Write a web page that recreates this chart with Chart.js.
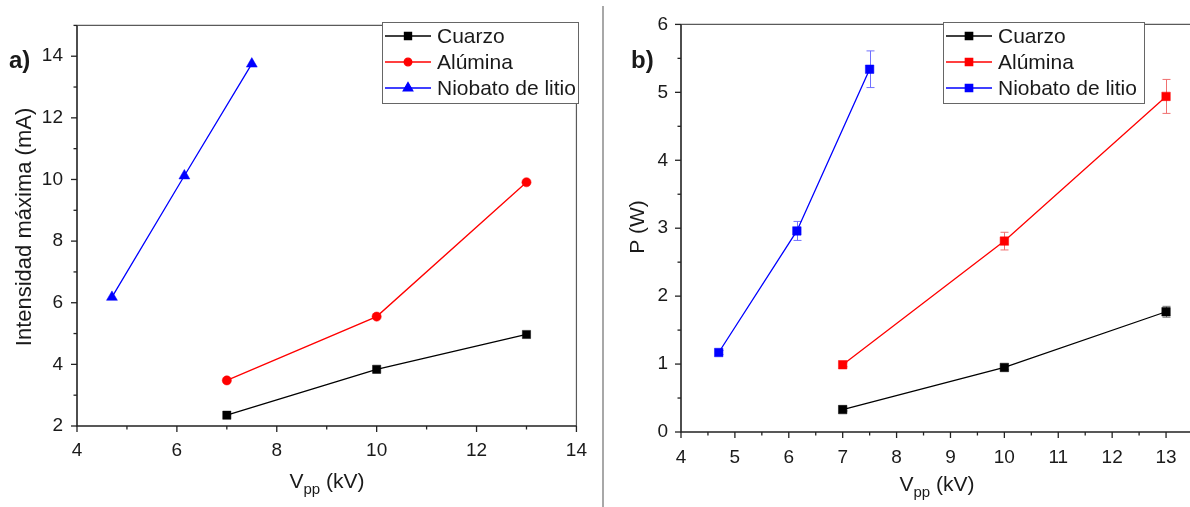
<!DOCTYPE html>
<html>
<head>
<meta charset="utf-8">
<script src="https://cdn.jsdelivr.net/npm/chart.js@4.4.0/dist/chart.umd.min.js"></script>
<style>
  html, body { margin: 0; padding: 0; background: #fff; overflow: hidden; width: 1190px; height: 507px; }
  .panel { position: absolute; top: 0; }
  #chartA { left: 0; }
  #chartB { left: 606px; }
  #divider { position: absolute; left: 602px; top: 6px; width: 2px; height: 501px; background: #a8a8a8; }
</style>
</head>
<body>
<canvas id="chartA" class="panel" width="600" height="507"></canvas>
<div id="divider"></div>
<canvas id="chartB" class="panel" width="600" height="507"></canvas>
<script>
// Series shared by both panels
const seriesNames = ['Cuarzo', 'Alúmina', 'Niobato de litio'];
const seriesColors = ['#000000', '#ff0000', '#0000ff'];
const errorColors = ['#707070', '#f07070', '#7070ff'];

// a) Intensidad máxima (mA) vs Vpp (kV)
const vppCuarzoA = [7, 10, 13];
const iCuarzo = [2.35, 3.84, 4.97];
const vppAluminaA = [7, 10, 13];
const iAlumina = [3.48, 5.55, 9.91];
const vppNiobatoA = [4.7, 6.15, 7.5];
const iNiobato = [6.18, 10.12, 13.75];

// b) P (W) vs Vpp (kV), with error bars
const vppCuarzoB = [7, 10, 13];
const pCuarzo = [0.33, 0.95, 1.77];
const errCuarzo = [0.02, 0.03, 0.08];
const vppAluminaB = [7, 10, 13];
const pAlumina = [0.99, 2.81, 4.94];
const errAlumina = [0.03, 0.13, 0.25];
const vppNiobatoB = [4.7, 6.15, 7.5];
const pNiobato = [1.17, 2.96, 5.34];
const errNiobato = [0.03, 0.14, 0.27];

// Tick labels
const ticksXA = [4, 6, 8, 10, 12, 14];
const ticksYA = [2, 4, 6, 8, 10, 12, 14];
const ticksXB = [4, 5, 6, 7, 8, 9, 10, 11, 12, 13];
const ticksYB = [0, 1, 2, 3, 4, 5, 6];

const FONT = "'Liberation Sans', Arial, Helvetica, sans-serif";
const INK = '#1a1a1a';

function makeDataset(label, xs, ys, color, style, radius, errs) {
    return {
        label: label,
        data: xs.map((x, i) => ({ x: x, y: ys[i] })),
        errors: errs || null,
        borderColor: color,
        backgroundColor: color,
        borderWidth: 1.3,
        pointStyle: style,
        pointRadius: radius,
        pointBorderWidth: 0.5,
        showLine: true,
        tension: 0
    };
}

// Frame, ticks, error bars, legend and titles drawn around the chart area
const decorPlugin = {
    id: 'decor',
    beforeDatasetsDraw(chart, args, opts) {
        const ctx = chart.ctx;
        const xs = chart.scales.x, ys = chart.scales.y;
        ctx.save();
        ctx.lineWidth = 1;
        chart.data.datasets.forEach((ds, di) => {
            if (!ds.errors) return;
            ctx.strokeStyle = errorColors[di];
            ds.data.forEach((p, i) => {
                const e = ds.errors[i];
                const px = Math.round(xs.getPixelForValue(p.x)) + 0.5;
                const top = ys.getPixelForValue(p.y + e);
                const bot = ys.getPixelForValue(p.y - e);
                ctx.beginPath();
                ctx.moveTo(px, top); ctx.lineTo(px, bot);
                ctx.moveTo(px - 4, top); ctx.lineTo(px + 4, top);
                ctx.moveTo(px - 4, bot); ctx.lineTo(px + 4, bot);
                ctx.stroke();
            });
        });
        ctx.restore();
    },
    afterDraw(chart, args, opts) {
        const ctx = chart.ctx;
        const a = chart.chartArea;
        const xs = chart.scales.x, ys = chart.scales.y;
        ctx.save();

        // frame
        ctx.strokeStyle = '#5a5a5a';
        ctx.lineWidth = 1.2;
        ctx.beginPath();
        ctx.moveTo(a.left, a.top); ctx.lineTo(a.right, a.top); ctx.lineTo(a.right, a.bottom);
        ctx.stroke();
        ctx.strokeStyle = '#222';
        ctx.lineWidth = 1.6;
        ctx.beginPath();
        ctx.moveTo(a.left, a.top); ctx.lineTo(a.left, a.bottom); ctx.lineTo(a.right, a.bottom);
        ctx.stroke();

        // major and minor ticks, outward
        ctx.lineWidth = 1.3;
        for (let v = xs.min; v <= xs.max + 1e-9; v += opts.minorX) {
            const px = xs.getPixelForValue(v);
            const major = opts.ticksX.some(t => Math.abs(t - v) < 1e-6);
            ctx.beginPath();
            ctx.moveTo(px, a.bottom); ctx.lineTo(px, a.bottom + (major ? 6 : 3.5));
            ctx.stroke();
        }
        for (let v = ys.min; v <= ys.max + 1e-9; v += opts.minorY) {
            const py = ys.getPixelForValue(v);
            const major = opts.ticksY.some(t => Math.abs(t - v) < 1e-6);
            ctx.beginPath();
            ctx.moveTo(a.left, py); ctx.lineTo(a.left - (major ? 6 : 3.5), py);
            ctx.stroke();
        }

        // legend box
        const lg = opts.legend;
        ctx.fillStyle = '#fff';
        ctx.fillRect(lg.x, lg.y, lg.w, lg.h);
        ctx.strokeStyle = '#666';
        ctx.lineWidth = 1;
        ctx.strokeRect(lg.x + 0.5, lg.y + 0.5, lg.w, lg.h);
        ctx.font = '21px ' + FONT;
        ctx.textBaseline = 'middle';
        ctx.textAlign = 'left';
        chart.data.datasets.forEach((ds, i) => {
            const cy = lg.y + 14 + i * 26;
            ctx.strokeStyle = ds.borderColor;
            ctx.lineWidth = 1.3;
            ctx.beginPath();
            ctx.moveTo(lg.x + 3, cy); ctx.lineTo(lg.x + 49, cy);
            ctx.stroke();
            ctx.fillStyle = ds.backgroundColor;
            Chart.helpers.drawPoint(ctx, {
                pointStyle: ds.pointStyle, radius: ds.pointRadius - 0.8,
                rotation: 0, borderWidth: 0.5
            }, lg.x + 26, cy);
            ctx.fillStyle = INK;
            ctx.fillText(ds.label, lg.x + 55, cy + 1);
        });

        // axis titles
        ctx.fillStyle = INK;
        ctx.font = opts.yTitle.size + 'px ' + FONT;
        ctx.textAlign = 'center';
        ctx.textBaseline = 'middle';
        ctx.save();
        ctx.translate(opts.yTitle.x, opts.yTitle.y);
        ctx.rotate(-Math.PI / 2);
        ctx.fillText(opts.yTitle.text, 0, 0);
        ctx.restore();

        // V with subscript pp
        ctx.textBaseline = 'alphabetic';
        ctx.textAlign = 'left';
        const big = '21px ' + FONT, small = '15px ' + FONT;
        ctx.font = big; const wV = ctx.measureText('V').width;
        ctx.font = small; const wS = ctx.measureText('pp').width;
        ctx.font = big; const wU = ctx.measureText(' (kV)').width;
        let tx = opts.xTitle.x - (wV + wS + wU) / 2;
        const by = opts.xTitle.y;
        ctx.fillText('V', tx, by); tx += wV;
        ctx.font = small; ctx.fillText('pp', tx, by + 6); tx += wS;
        ctx.font = big; ctx.fillText(' (kV)', tx, by);

        // panel letter
        ctx.font = 'bold 24px ' + FONT;
        ctx.fillText(opts.letter.text, opts.letter.x, opts.letter.y);
        ctx.restore();
    }
};

function axis(min, max, ticks, side, size, padding) {
    return {
        type: 'linear',
        min: min,
        max: max,
        afterBuildTicks: s => { s.ticks = ticks.map(v => ({ value: v })); },
        afterFit: s => { if (side === 'x') s.height = size; else s.width = size; },
        grid: { display: false, drawTicks: false },
        border: { display: false },
        ticks: {
            padding: padding,
            color: INK,
            font: { size: 19, family: FONT },
            maxRotation: 0,
            autoSkip: false
        }
    };
}

const commonPlugins = {
    legend: { display: false },
    tooltip: { enabled: false }
};

new Chart(document.getElementById('chartA'), {
    type: 'scatter',
    data: {
        datasets: [
            makeDataset(seriesNames[0], vppCuarzoA, iCuarzo, seriesColors[0], 'rect', 5.8),
            makeDataset(seriesNames[1], vppAluminaA, iAlumina, seriesColors[1], 'circle', 4.6),
            makeDataset(seriesNames[2], vppNiobatoA, iNiobato, seriesColors[2], 'triangle', 6.3)
        ]
    },
    options: {
        responsive: false,
        animation: false,
        layout: { padding: { top: 22, right: 22, left: 0, bottom: 0 } },
        plugins: Object.assign({}, commonPlugins, {
            decor: {
                ticksX: ticksXA, ticksY: ticksYA, minorX: 1, minorY: 1,
                legend: { x: 382, y: 22, w: 196, h: 81 },
                yTitle: { text: 'Intensidad máxima (mA)', x: 25, y: 227, size: 22 },
                xTitle: { x: 327, y: 488 },
                letter: { text: 'a)', x: 9, y: 68 }
            }
        }),
        scales: {
            x: axis(4, 14, ticksXA, 'x', 81, 13),
            y: axis(2, 15, ticksYA, 'y', 77, 14)
        }
    },
    plugins: [decorPlugin]
});

new Chart(document.getElementById('chartB'), {
    type: 'scatter',
    data: {
        datasets: [
            makeDataset(seriesNames[0], vppCuarzoB, pCuarzo, seriesColors[0], 'rect', 6, errCuarzo),
            makeDataset(seriesNames[1], vppAluminaB, pAlumina, seriesColors[1], 'rect', 6, errAlumina),
            makeDataset(seriesNames[2], vppNiobatoB, pNiobato, seriesColors[2], 'rect', 6, errNiobato)
        ]
    },
    options: {
        responsive: false,
        animation: false,
        layout: { padding: { top: 22, right: 13, left: 0, bottom: 0 } },
        plugins: Object.assign({}, commonPlugins, {
            decor: {
                ticksX: ticksXB, ticksY: ticksYB, minorX: 0.5, minorY: 0.5,
                legend: { x: 337, y: 22, w: 201, h: 81 },
                yTitle: { text: 'P (W)', x: 32, y: 227, size: 21 },
                xTitle: { x: 331, y: 491 },
                letter: { text: 'b)', x: 25, y: 68 }
            }
        }),
        scales: {
            x: axis(4, 13.5, ticksXB, 'x', 75, 14),
            y: axis(0, 6, ticksYB, 'y', 75, 13)
        }
    },
    plugins: [decorPlugin]
});
</script>
</body>
</html>
